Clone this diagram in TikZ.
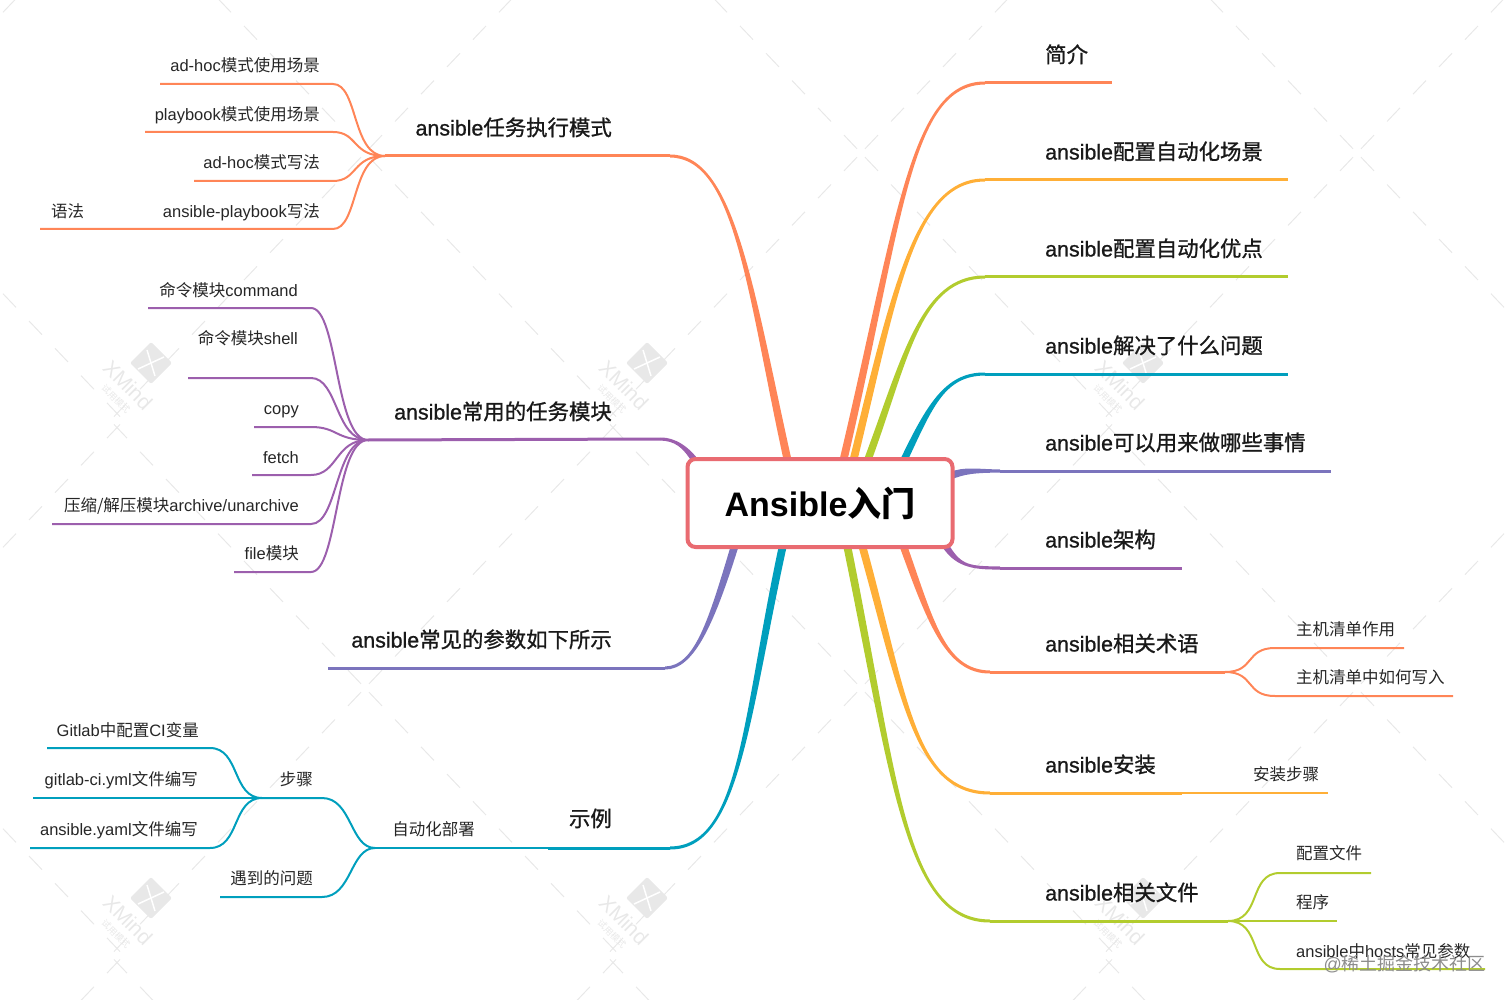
\documentclass[tikz,border=0pt]{standalone}
\usepackage{fontspec}
\setmainfont{Liberation Sans}
\newfontfamily\latm[FakeBold=1.0]{Liberation Sans}
\newfontfamily\zh{Noto Sans CJK SC}
\newfontfamily\zhm[FakeBold=1.0]{Noto Sans CJK SC}
\usetikzlibrary{backgrounds}
\definecolor{fire}{HTML}{FF8557}
\definecolor{amber}{HTML}{FFAF37}
\definecolor{lime}{HTML}{B2CC2E}
\definecolor{teal2}{HTML}{009FBD}
\definecolor{iris}{HTML}{7B74BD}
\definecolor{plum}{HTML}{9C5FAD}
\definecolor{rootred}{HTML}{E96B71}
\definecolor{wmgray}{HTML}{E8E8E8}

\tikzset{
  root/.style={draw=rootred, line width=4pt, rounded corners=8pt, fill=white, minimum width=265pt, minimum height=88pt, inner sep=0pt, font=\fontsize{34}{36}\bfseries},
  head/.style={inner sep=0pt, yshift=-4.5pt, text height=.8em, text depth=.2em, font=\fontsize{21.4}{24}\latm, text=black!90},
  leaf/.style={inner sep=0pt, yshift=-3.5pt, text height=.8em, text depth=.2em, font=\fontsize{16.5}{20}\selectfont, text=black!85},
  twig/.style={line width=2pt, #1},
  limb/.style={line width=3pt, #1},
}

% tapered main branch: colour, start, control, control, end, shift key, side
\newcommand{\bough}[7]{
  \draw[draw=none, fill=#1] ([#6=-4pt]#2) .. controls ([#6=-3.5pt]#3) and ([yshift=#7*2pt]#4) .. ([yshift=#7*1.5pt]#5) -- ([yshift=-#7*1.5pt]#5) .. controls ([yshift=-#7*2pt]#4) and ([#6=3.5pt]#3) .. ([#6=4pt]#2) -- cycle;
}

\begin{document}
\begin{tikzpicture}[x=1pt, y=-1pt]
  \useasboundingbox (0,0) rectangle (1512,1000);

  \node[root] (r) at (820,503) {Ansible\zh{入门}};

  \node[head, anchor=west] (a1) at (1045,55) {\zhm 简介};
  \node[head, anchor=west] (a2) at (1045,152) {ansible\zhm 配置自动化场景};
  \node[head, anchor=west] (a3) at (1045,249) {ansible\zhm 配置自动化优点};
  \node[head, anchor=west] (a4) at (1045,346) {ansible\zhm 解决了什么问题};
  \node[head, anchor=west] (a5) at (1045,443) {ansible\zhm 可以用来做哪些事情};
  \node[head, anchor=west] (a6) at (1045,540) {ansible\zhm 架构};
  \node[head, anchor=west] (a7) at (1045,644) {ansible\zhm 相关术语};
  \node[head, anchor=west] (a8) at (1045,765) {ansible\zhm 安装};
  \node[head, anchor=west] (a9) at (1045,893) {ansible\zhm 相关文件};

  \node[head, anchor=east] (b1) at (612,128) {ansible\zhm 任务执行模式};
  \node[head, anchor=east] (b2) at (612,412) {ansible\zhm 常用的任务模块};
  \node[head, anchor=east] (b3) at (612,640) {ansible\zhm 常见的参数如下所示};
  \node[head, anchor=east] (b4) at (612,819) {\zhm 示例};

  \node[leaf, anchor=west] (c1) at (1296,629) {\zh 主机清单作用};
  \node[leaf, anchor=west] (c2) at (1296,677) {\zh 主机清单中如何写入};
  \node[leaf, anchor=west] (c3) at (1253,774) {\zh 安装步骤};
  \node[leaf, anchor=west] (c4) at (1296,853) {\zh 配置文件};
  \node[leaf, anchor=west] (c5) at (1296,902) {\zh 程序};
  \node[leaf, anchor=west] (c6) at (1296,951) {ansible\zh 中\rm hosts\zh 常见参数};

  \node[leaf, anchor=east] (d1) at (320,65) {ad-hoc\zh 模式使用场景};
  \node[leaf, anchor=east] (d2) at (320,114) {playbook\zh 模式使用场景};
  \node[leaf, anchor=east] (d3) at (320,162) {ad-hoc\zh 模式写法};
  \node[leaf, anchor=east] (d4) at (320,211) {ansible-playbook\zh 写法};
  \node[leaf, anchor=west] (d5) at (51,211) {\zh 语法};

  \node[leaf, anchor=east] (f1) at (298,290) {\zh 命令模块\rm command};
  \node[leaf, anchor=east] (f2) at (298,338) {\zh 命令模块\rm shell};
  \node[leaf, anchor=east] (f3) at (299,408) {copy};
  \node[leaf, anchor=east] (f4) at (299,457) {fetch};
  \node[leaf, anchor=east] (f5) at (299,505) {\zh 压缩/解压模块\rm archive/unarchive};
  \node[leaf, anchor=east] (f6) at (299,553) {file\zh 模块};

  \node[leaf, anchor=east] (g1) at (475,829) {\zh 自动化部署};
  \node[leaf, anchor=east] (g2) at (313,779) {\zh 步骤};
  \node[leaf, anchor=east] (g3) at (313,878) {\zh 遇到的问题};
  \node[leaf, anchor=east] (g4) at (199,730) {Gitlab\zh 中配置\rm CI\zh 变量};
  \node[leaf, anchor=east] (g5) at (198,779) {gitlab-ci.yml\zh 文件编写};
  \node[leaf, anchor=east] (g6) at (198,829) {ansible.yaml\zh 文件编写};

  \node[anchor=east, inner sep=0pt, font=\fontsize{18}{22}\selectfont, text=black!45] (w) at (1486,964) {@\zh 稀土掘金技术社区};

  \begin{scope}[on background layer]
    \foreach \cx in {-131, 365, 861, 1357, 1853} {
      \foreach \cy in {-382, 153, 688, 1223} {
        \foreach \sx/\sy in {1/1, 1/-1, -1/1, -1/-1} {
          \foreach \k in {0,...,9} {
            \draw[wmgray, line width=1pt] ({\cx+\sx*(4+26*\k)}, {\cy+\sy*1.05*(4+26*\k)}) -- ({\cx+\sx*(17+26*\k)}, {\cy+\sy*1.05*(17+26*\k)});
          }
        }
      }
    }
    \foreach \x/\y in {151/363, 647/363, 1143/363, 151/898, 647/898, 1143/898} {
      \fill[wmgray, rounded corners=2pt] (\x-21,\y) -- (\x,\y-21) -- (\x+21,\y) -- (\x,\y+21) -- cycle;
      \draw[white, line width=1.5pt] (\x-4,\y-13) -- (\x+4,\y+13);
      \draw[white, line width=1.5pt] (\x-13,\y+6) -- (\x+13,\y-6);
      \node[text=wmgray, inner sep=0pt, rotate=-45, font=\fontsize{21}{24}\selectfont] at (\x-23,\y+22) {XMind};
      \node[text=wmgray, inner sep=0pt, rotate=-45, font=\fontsize{9}{12}\zh] at (\x-35,\y+36) {试用模式};
    }

    \coordinate (s1) at (843,462);
    \coordinate (s2) at (853,462);
    \coordinate (s3) at (867,462);
    \coordinate (s4) at (903,462);
    \coordinate (s5) at (950,476);
    \coordinate (s6) at (945,545);
    \coordinate (s7) at (903,545);
    \coordinate (s8) at (862,545);
    \coordinate (s9) at (847,545);
    \coordinate (e1) at (985,83);
    \coordinate (e2) at (985,180);
    \coordinate (e3) at (985,277);
    \coordinate (e4) at (985,374);
    \coordinate (e5) at (1000,471);
    \coordinate (e6) at (1000,568);
    \coordinate (e7) at (990,672);
    \coordinate (e8) at (990,793);
    \coordinate (e9) at (990,921);

    \bough{fire}{s1}{900,220}{910,83}{e1}{xshift}{1}
    \bough{amber}{s2}{895,290}{915,180}{e2}{xshift}{1}
    \bough{lime}{s3}{905,360}{920,277}{e3}{xshift}{1}
    \bough{teal2}{s4}{930,405}{945,374}{e4}{xshift}{1}
    \bough{iris}{s5}{965,470}{975,471}{e5}{yshift}{-1}
    \bough{plum}{s6}{958,566}{970,568}{e6}{xshift}{-1}
    \bough{fire}{s7}{930,620}{945,672}{e7}{xshift}{-1}
    \bough{amber}{s8}{905,700}{915,793}{e8}{xshift}{-1}
    \bough{lime}{s9}{895,780}{905,921}{e9}{xshift}{-1}

    \coordinate (t1) at (1112,83);
    \coordinate (t2) at (1288,180);
    \coordinate (t3) at (1288,277);
    \coordinate (t4) at (1288,374);
    \coordinate (t5) at (1331,471);
    \coordinate (t6) at (1182,568);
    \coordinate (t7) at (1225,672);
    \coordinate (t8) at (1182,793);
    \coordinate (t9) at (1228,921);
    \draw[limb=fire] (e1) -- (t1);
    \draw[limb=amber] (e2) -- (t2);
    \draw[limb=lime] (e3) -- (t3);
    \draw[limb=teal2] (e4) -- (t4);
    \draw[limb=iris] (e5) -- (t5);
    \draw[limb=plum] (e6) -- (t6);
    \draw[limb=fire] (e7) -- (t7);
    \draw[limb=amber] (e8) -- (t8);
    \draw[limb=lime] (e9) -- (t9);

    \coordinate (s10) at (788,462);
    \coordinate (s11) at (696,462);
    \coordinate (s12) at (735,545);
    \coordinate (s13) at (783,545);
    \coordinate (e10) at (670,156);
    \coordinate (e11) at (660,439);
    \coordinate (e12) at (665,668);
    \coordinate (e13) at (670,848);
    \bough{fire}{s10}{750,290}{735,156}{e10}{xshift}{-1}
    \bough{plum}{s11}{686,447}{675,439}{e11}{xshift}{-1}
    \bough{iris}{s12}{712,620}{695,668}{e12}{xshift}{1}
    \bough{teal2}{s13}{745,720}{740,848}{e13}{xshift}{1}

    \coordinate (h1) at (385,156);
    \coordinate (h2) at (368,440);
    \coordinate (t12) at (328,668);
    \coordinate (t13) at (548,848);
    \coordinate (h3) at (375,848);
    \coordinate (h4) at (262,798);
    \draw[limb=fire] (e10) -- (h1);
    \draw[limb=plum] (e11) -- (h2);
    \draw[limb=iris] (e12) -- (t12);
    \draw[limb=teal2] (e13) -- (t13);
    \draw[twig=teal2] (t13) -- (h3);

    \foreach \n/\y/\x in {p1/84/160, p2/132/145, p3/181/194, p4/229/40} {
      \coordinate (\n) at (\x,\y);
      \draw[twig=fire] (h1) .. controls (352,156) and (358,\y) .. (333,\y) -- (\n);
    }
    \foreach \n/\y/\x in {q1/308/148, q2/378/188, q3/427/254, q4/475/252, q5/524/52, q6/572/234} {
      \coordinate (\n) at (\x,\y);
      \draw[twig=plum] (h2) .. controls (335,440) and (338,\y) .. (311,\y) -- (\n);
    }
    \foreach \n/\y/\x in {u1/798/262, u2/897/220} {
      \coordinate (\n) at (\x,\y);
      \draw[twig=teal2] (h3) .. controls (350,848) and (352,\y) .. (322,\y) -- (\n);
    }
    \foreach \n/\y/\x in {v1/748/47, v2/848/30} {
      \coordinate (\n) at (\x,\y);
      \draw[twig=teal2] (h4) .. controls (232,798) and (240,\y) .. (210,\y) -- (\n);
    }
    \coordinate (v3) at (33,798);
    \draw[twig=teal2] (h4) -- (v3);

    \coordinate (k1) at (1404,648);
    \coordinate (k2) at (1453,696);
    \coordinate (k3) at (1328,793);
    \coordinate (k4) at (1371,873);
    \coordinate (k5) at (1337,921);
    \coordinate (k6) at (1485,969);
    \draw[twig=fire] (t7) .. controls (1255,672) and (1245,648) .. (1275,648) -- (k1);
    \draw[twig=fire] (t7) .. controls (1255,672) and (1245,696) .. (1275,696) -- (k2);
    \draw[twig=amber] (t8) -- (k3);
    \draw[twig=lime] (t9) .. controls (1262,921) and (1248,873) .. (1280,873) -- (k4);
    \draw[twig=lime] (t9) -- (k5);
    \draw[twig=lime] (t9) .. controls (1262,921) and (1248,969) .. (1280,969) -- (k6);
  \end{scope}
\end{tikzpicture}
\end{document}
